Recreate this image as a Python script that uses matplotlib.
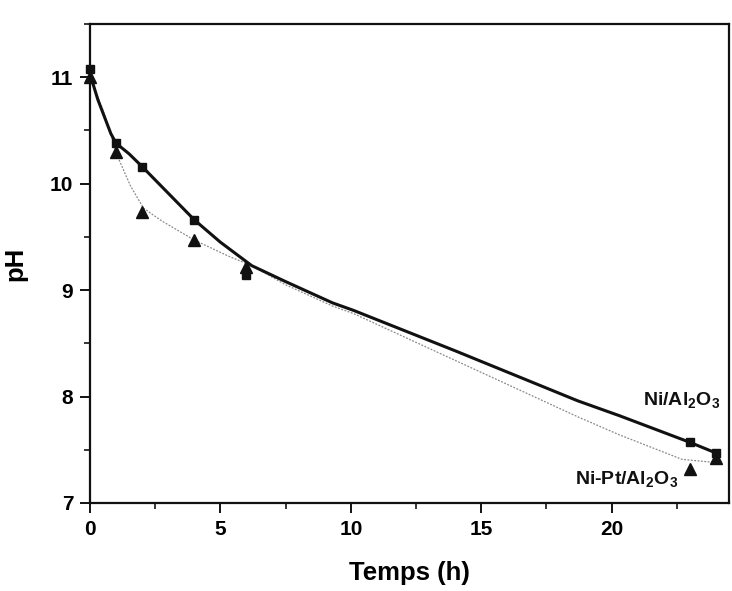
import matplotlib
matplotlib.use("Agg")
import matplotlib.pyplot as plt
from matplotlib.ticker import MultipleLocator

plt.rcParams['font.family'] = ['Liberation Sans', 'DejaVu Sans']
plt.rcParams['font.weight'] = 'bold'
plt.rcParams['mathtext.fontset'] = 'custom'
plt.rcParams['mathtext.rm'] = 'Liberation Sans:bold'
plt.rcParams['mathtext.bf'] = 'Liberation Sans:bold'
plt.rcParams['mathtext.default'] = 'bf'

# Measured points (time in h, pH)
t_meas = [0, 1, 2, 4, 6, 23, 24]
ph_ni = [11.08, 10.38, 10.16, 9.66, 9.14, 7.57, 7.47]
ph_nipt = [11.00, 10.30, 9.73, 9.47, 9.22, 7.32, 7.42]

# Fitted trend curves
t_fit_ni = [0, 0.3, 0.8, 1.0, 1.5, 2.0, 3.0, 4.0, 5.0, 6.2, 7.5, 9.3, 10.1,
            14.0, 18.7, 20.3, 23.0, 24.0]
ph_fit_ni = [11.03, 10.79, 10.47, 10.38, 10.28, 10.16, 9.91, 9.66, 9.45, 9.23,
             9.08, 8.88, 8.81, 8.43, 7.96, 7.82, 7.57, 7.47]

t_fit_nipt = [0, 0.5, 1.05, 1.55, 2.05, 2.75, 4.0, 5.3, 6.2, 7.5, 9.3, 10.1,
              14.0, 18.7, 20.3, 22.7, 24.0]
ph_fit_nipt = [11.00, 10.69, 10.26, 9.98, 9.77, 9.65, 9.47, 9.32, 9.23, 9.05,
               8.85, 8.78, 8.34, 7.81, 7.64, 7.41, 7.38]

x_ticks = [0, 5, 10, 15, 20]
y_ticks = [7, 8, 9, 10, 11]

fig = plt.figure(figsize=(7.32, 5.91), dpi=100)
ax = fig.add_axes([90 / 732, 88 / 591, 639 / 732, 479 / 591])

ax.plot(t_fit_nipt, ph_fit_nipt, color='#8a8a8a', lw=0.9,
        linestyle=(0, (1.5, 1.2)), zorder=2)
ax.plot(t_fit_ni, ph_fit_ni, color='#111111', lw=2.2, zorder=3,
        solid_capstyle='round')
ax.plot(t_meas, ph_ni, linestyle='none', marker='s', ms=6, color='#111111',
        zorder=4, clip_on=False)
ax.plot(t_meas, ph_nipt, linestyle='none', marker='^', ms=8.5, color='#111111',
        zorder=4, clip_on=False)

ax.text(21.2, 7.92, r'Ni/Al$_2$O$_3$', fontsize=14, fontweight='bold',
        ha='left', va='baseline', color='#111111')
ax.text(18.6, 7.18, r'Ni-Pt/Al$_2$O$_3$', fontsize=14, fontweight='bold',
        ha='left', va='baseline', color='#111111')

ax.set_xlim(0, 24.5)
ax.set_ylim(7, 11.5)
ax.set_xticks(x_ticks)
ax.set_yticks(y_ticks)
ax.xaxis.set_minor_locator(MultipleLocator(2.5))
ax.yaxis.set_minor_locator(MultipleLocator(0.5))
ax.tick_params(which='major', direction='out', length=7, width=1.3,
               labelsize=15, pad=5, top=False, right=False)
ax.tick_params(which='minor', direction='out', length=4, width=1.1,
               top=False, right=False)
for lab in ax.get_xticklabels() + ax.get_yticklabels():
    lab.set_fontweight('bold')

for sp in ax.spines.values():
    sp.set_linewidth(1.6)
    sp.set_color('#111111')

ax.set_xlabel('Temps (h)', fontsize=18.5, fontweight='bold', labelpad=16)
ax.set_ylabel('pH', fontsize=18.5, fontweight='bold', labelpad=16)

fig.savefig('out.png', dpi=100)
